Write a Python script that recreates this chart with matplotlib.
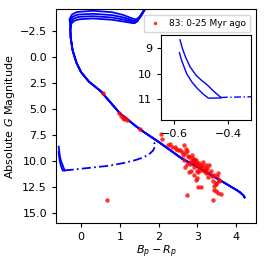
import numpy as np
import matplotlib
matplotlib.use("Agg")
import matplotlib.pyplot as plt

# Shared main-sequence part of the isochrones (colour, magnitude)
ms_x = [4.22, 4.19, 4.10, 4.00, 3.50, 3.00, 2.60, 2.00, 1.60, 1.40, 1.00, 0.50, 0.20, 0.00, -0.12, -0.22, -0.27, -0.28, -0.27]
ms_y = [13.55, 13.35, 13.05, 12.80, 11.70, 10.60, 9.80, 8.20, 7.20, 6.65, 5.45, 3.30, 2.40, 1.50, 0.60, -0.60, -1.80, -2.60, -2.95]

# Upper branches (one per isochrone)
br1_x = [-0.27, -0.25, -0.18, -0.05, 0.30, 0.80, 1.10, 1.30, 1.38, 1.45, 1.58, 1.70]
br1_y = [-2.95, -3.20, -3.45, -3.60, -3.68, -3.55, -3.38, -3.25, -3.22, -3.40, -4.10, -4.90]
br2_x = [-0.27, -0.26, -0.20, -0.07, 0.30, 0.80, 1.10, 1.30, 1.39, 1.47, 1.60, 1.70]
br2_y = [-2.95, -3.35, -3.65, -3.83, -3.90, -3.77, -3.57, -3.38, -3.32, -3.55, -4.30, -4.90]
br3_x = [-0.28, -0.28, -0.22, -0.09, 0.30, 0.80, 1.10, 1.30, 1.40, 1.49, 1.62, 1.70]
br3_y = [-2.95, -3.50, -3.85, -4.05, -4.13, -4.00, -3.77, -3.52, -3.43, -3.70, -4.45, -4.90]
br4_x = [-0.28, -0.30, -0.24, -0.11, 0.30, 0.80, 1.10, 1.30, 1.42, 1.51, 1.63, 1.70]
br4_y = [-2.95, -3.60, -4.05, -4.30, -4.42, -4.28, -4.00, -3.70, -3.58, -3.85, -4.55, -4.90]
branches = [(br1_x, br1_y), (br2_x, br2_y), (br3_x, br3_y), (br4_x, br4_y)]

# White-dwarf cooling tracks
wd1_x = [-0.579, -0.570, -0.560, -0.542, -0.520, -0.500, -0.480, -0.455, -0.428]
wd1_y = [8.66, 9.00, 9.30, 9.72, 10.05, 10.25, 10.42, 10.68, 10.93]
wd2_x = [-0.581, -0.572, -0.554, -0.535, -0.517, -0.495, -0.474, -0.428]
wd2_y = [9.17, 9.50, 10.00, 10.32, 10.55, 10.78, 10.96, 10.95]
dd_x = [-0.428, -0.30, 0.20, 0.70, 1.07, 1.40, 1.60, 1.75, 1.85, 1.90, 1.90, 1.87]
dd_y = [10.93, 10.90, 10.70, 10.50, 10.25, 9.95, 9.70, 9.40, 9.05, 8.70, 8.40, 8.20]

# Observed stars (83)
star_x = [0.57, 0.97, 1.04, 1.08, 1.13, 1.17, 1.10, 1.51, 2.07, 2.08,
          0.66, 2.23, 2.34, 2.41, 2.45, 2.50, 2.66, 2.70, 2.69, 2.62,
          2.66, 2.79, 2.83, 2.88, 2.92, 2.97, 2.96, 3.04, 3.05, 3.14,
          3.13, 3.17, 3.22, 3.30, 3.26, 3.09, 3.05, 3.00, 3.21, 2.67,
          2.72, 2.79, 2.83, 2.92, 3.01, 3.22, 3.31, 3.38, 3.44, 3.52,
          3.51, 3.56, 3.56, 3.39, 3.47, 3.48, 3.43, 2.97, 3.00, 3.01,
          3.09, 3.44, 3.47, 3.52, 3.60, 3.41, 2.72, 2.74, 2.85, 2.90,
          2.95, 2.85, 2.75, 3.00, 3.10, 2.80, 2.60, 2.55, 3.35, 2.92,
          2.30, 3.18, 3.28]
star_y = [3.50, 5.45, 5.75, 5.90, 5.92, 6.05, 6.00, 6.98, 7.43, 7.90,
          13.75, 8.50, 8.70, 8.65, 8.85, 8.97, 8.46, 8.85, 9.30, 9.45,
          9.90, 9.65, 10.06, 10.15, 9.90, 9.95, 10.38, 10.50, 10.25, 10.10,
          10.38, 10.70, 10.40, 10.45, 10.73, 10.86, 10.73, 11.00, 10.93, 10.58,
          10.30, 11.06, 11.00, 11.35, 11.06, 11.20, 11.20, 11.45, 11.37, 11.20,
          11.50, 11.98, 11.86, 12.00, 12.14, 12.24, 12.46, 11.86, 11.67, 12.50,
          12.50, 12.80, 12.94, 13.07, 13.17, 13.80, 13.27, 9.10, 9.50, 9.80,
          10.10, 9.75, 9.60, 10.20, 10.60, 10.30, 9.20, 9.00, 11.00, 10.60,
          8.40, 11.00, 11.60]
label = "83: 0-25 Myr ago"

fig = plt.figure(figsize=(2.66, 2.66), dpi=100)
ax = fig.add_axes([0.2105, 0.1617, 0.7515, 0.8033])


def draw_tracks(a, lw):
    for bx, by in branches:
        a.plot(ms_x + bx, ms_y + by, color="blue", lw=lw, solid_capstyle="round")
    a.plot(wd1_x, wd1_y, color="blue", lw=lw)
    a.plot(wd2_x, wd2_y, color="blue", lw=lw)
    a.plot(dd_x, dd_y, color="blue", lw=lw, ls="-.", dashes=(5, 1.8, 1, 1.8))


draw_tracks(ax, 1.3)
ax.plot(star_x, star_y, "o", color="red", ms=3.2, alpha=0.8, mec="none", label=label)
ax.set_xlim(-0.65, 4.51)
ax.set_ylim(16.0, -4.56)
ax.set_xticks([0, 1, 2, 3, 4])
ax.set_yticks([-2.5, 0.0, 2.5, 5.0, 7.5, 10.0, 12.5, 15.0])
ax.tick_params(labelsize=8, length=3)
ax.set_xlabel("$B_p - R_p$", fontsize=8, labelpad=1)
ax.set_ylabel("Absolute $G$ Magnitude", fontsize=8, labelpad=2)
ax.legend(loc="upper right", fontsize=6.5, handletextpad=0.8, borderpad=0.45,
          handlelength=1.6, markerscale=0.8, borderaxespad=0.6)

ins = fig.add_axes([0.6065, 0.5489, 0.3383, 0.3195])
draw_tracks(ins, 1.0)
ins.plot(star_x, star_y, "o", color="red", ms=3.2, alpha=0.8, mec="none")
ins.set_xlim(-0.648, -0.315)
ins.set_ylim(11.82, 8.47)
ins.set_xticks([-0.6, -0.4])
ins.set_yticks([9, 10, 11])
ins.tick_params(labelsize=8, length=3)

fig.savefig("out.png", dpi=100)
